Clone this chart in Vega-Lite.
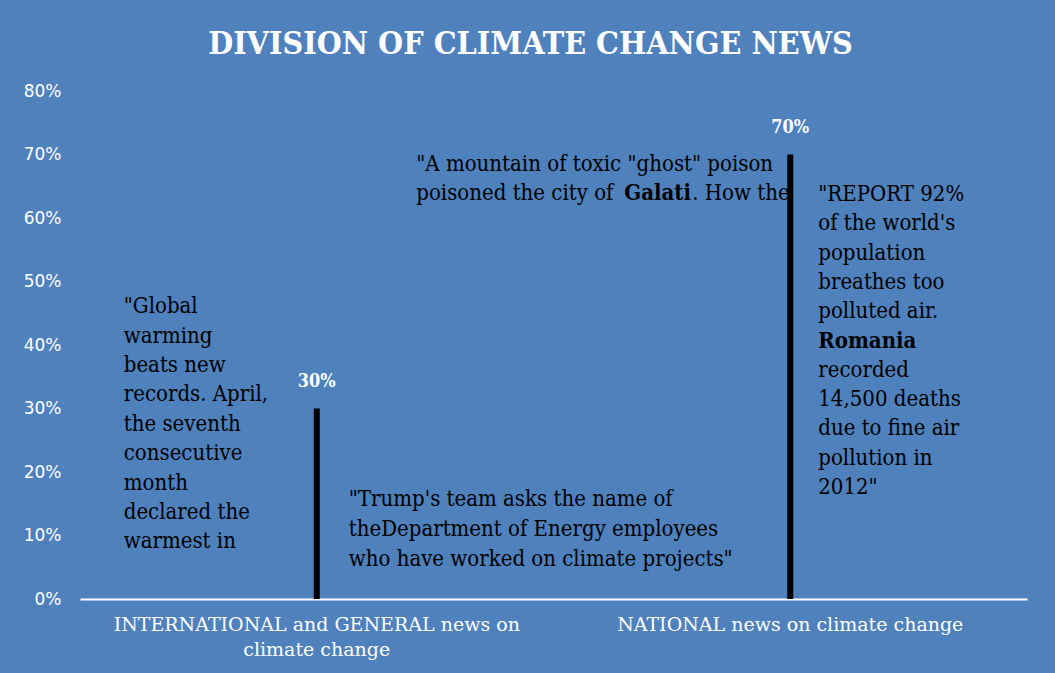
{
  "$schema": "https://vega.github.io/schema/vega-lite/v6.json",
  "autosize": "none",
  "width": 947,
  "height": 508,
  "padding": {"left": 80, "top": 91, "right": 28, "bottom": 74},
  "background": "#4f81bd",
  "title": {
    "text": "DIVISION OF CLIMATE CHANGE NEWS",
    "font": "DejaVu Serif Condensed",
    "fontWeight": "bold",
    "fontSize": 32,
    "color": "white",
    "anchor": "middle",
    "frame": "group",
    "dx": -23,
    "offset": 21
  },
  "config": {"view": {"stroke": null}},
  "layer": [
    {
      "data": {"values": [
        {"category": "INTERNATIONAL and GENERAL news on climate change", "anchor": 0.45,
         "lines": ["\"Global", "warming", "beats new", "records. April,", "the seventh", "consecutive", "month", "declared the", "warmest in"]}
      ]},
      "mark": {"type": "text", "color": "black", "font": "DejaVu Serif Condensed", "fontSize": 22, "align": "left", "baseline": "alphabetic", "lineHeight": 29.4, "dx": -193},
      "encoding": {
        "x": {
          "field": "category", "type": "nominal", "sort": ["INTERNATIONAL and GENERAL news on climate change", "NATIONAL news on climate change"],
          "scale": {"domain": ["INTERNATIONAL and GENERAL news on climate change", "NATIONAL news on climate change"], "paddingInner": 0, "paddingOuter": 0},
          "axis": {
            "title": null, "labelAngle": 0, "ticks": false,
            "domainColor": "white", "domainWidth": 2,
            "labelColor": "white", "labelFont": "DejaVu Serif", "labelFontSize": 19,
            "labelLimit": 600, "labelPadding": 16, "labelLineHeight": 25,
            "labelExpr": "datum.value === 'INTERNATIONAL and GENERAL news on climate change' ? ['INTERNATIONAL and GENERAL news on', 'climate change'] : datum.label"
          }
        },
        "y": {
          "field": "anchor", "type": "quantitative",
          "scale": {"domain": [0, 0.8]},
          "axis": {
            "title": null, "format": ".0%", "values": [0, 0.1, 0.2, 0.3, 0.4, 0.5, 0.6, 0.7, 0.8],
            "grid": false, "domain": false, "ticks": false,
            "labelColor": "white", "labelFont": "DejaVu Sans", "labelFontSize": 17,
            "labelPadding": 19
          }
        },
        "text": {"field": "lines"}
      }
    },
    {
      "data": {"values": [
        {"category": "INTERNATIONAL and GENERAL news on climate change", "anchor": 0.1465,
         "lines": ["\"Trump's team asks the name of", "theDepartment of Energy employees", "who have worked on climate projects\""]}
      ]},
      "mark": {"type": "text", "color": "black", "font": "DejaVu Serif Condensed", "fontSize": 22, "align": "left", "baseline": "alphabetic", "lineHeight": 30, "dx": 32},
      "encoding": {
        "x": {"field": "category", "type": "nominal"},
        "y": {"field": "anchor", "type": "quantitative"},
        "text": {"field": "lines"}
      }
    },
    {
      "data": {"values": [
        {"category": "NATIONAL news on climate change", "anchor": 0.674, "line": "\"A mountain of toxic \"ghost\" poison"},
        {"category": "NATIONAL news on climate change", "anchor": 0.6283, "line": "poisoned the city of"}
      ]},
      "mark": {"type": "text", "color": "black", "font": "DejaVu Serif Condensed", "fontSize": 22, "align": "left", "baseline": "alphabetic", "dx": -374},
      "encoding": {
        "x": {"field": "category", "type": "nominal"},
        "y": {"field": "anchor", "type": "quantitative"},
        "text": {"field": "line"}
      }
    },
    {
      "data": {"values": [
        {"category": "NATIONAL news on climate change", "anchor": 0.6283, "word": "Galati"}
      ]},
      "mark": {"type": "text", "color": "black", "font": "DejaVu Serif Condensed", "fontWeight": "bold", "fontSize": 22, "align": "left", "baseline": "alphabetic", "dx": -166},
      "encoding": {
        "x": {"field": "category", "type": "nominal"},
        "y": {"field": "anchor", "type": "quantitative"},
        "text": {"field": "word"}
      }
    },
    {
      "data": {"values": [
        {"category": "NATIONAL news on climate change", "anchor": 0.6283, "line": ". How the"}
      ]},
      "mark": {"type": "text", "color": "black", "font": "DejaVu Serif Condensed", "fontSize": 22, "align": "left", "baseline": "alphabetic", "dx": -98},
      "encoding": {
        "x": {"field": "category", "type": "nominal"},
        "y": {"field": "anchor", "type": "quantitative"},
        "text": {"field": "line"}
      }
    },
    {
      "data": {"values": [
        {"category": "NATIONAL news on climate change", "anchor": 0.6268,
         "lines": ["\"REPORT 92%", "of the world's", "population", "breathes too", "polluted air."]},
        {"category": "NATIONAL news on climate change", "anchor": 0.35,
         "lines": ["recorded", "14,500 deaths", "due to fine air", "pollution in", "2012\""]}
      ]},
      "mark": {"type": "text", "color": "black", "font": "DejaVu Serif Condensed", "fontSize": 22, "align": "left", "baseline": "alphabetic", "lineHeight": 29.3, "dx": 28},
      "encoding": {
        "x": {"field": "category", "type": "nominal"},
        "y": {"field": "anchor", "type": "quantitative"},
        "text": {"field": "lines"}
      }
    },
    {
      "data": {"values": [
        {"category": "NATIONAL news on climate change", "anchor": 0.396, "word": "Romania"}
      ]},
      "mark": {"type": "text", "color": "black", "font": "DejaVu Serif Condensed", "fontWeight": "bold", "fontSize": 22, "align": "left", "baseline": "alphabetic", "dx": 28},
      "encoding": {
        "x": {"field": "category", "type": "nominal"},
        "y": {"field": "anchor", "type": "quantitative"},
        "text": {"field": "word"}
      }
    },
    {
      "data": {"values": [
        {"category": "INTERNATIONAL and GENERAL news on climate change", "share": 0.3},
        {"category": "NATIONAL news on climate change", "share": 0.7}
      ]},
      "layer": [
        {
          "mark": {"type": "bar", "color": "black", "size": 6},
          "encoding": {
            "x": {"field": "category", "type": "nominal"},
            "y": {"field": "share", "type": "quantitative"}
          }
        },
        {
          "mark": {"type": "text", "color": "white", "font": "DejaVu Serif Condensed", "fontWeight": "bold", "fontSize": 18, "dy": -18, "baseline": "bottom"},
          "encoding": {
            "x": {"field": "category", "type": "nominal"},
            "y": {"field": "share", "type": "quantitative"},
            "text": {"field": "share", "type": "quantitative", "format": ".0%"}
          }
        }
      ]
    }
  ]
}
